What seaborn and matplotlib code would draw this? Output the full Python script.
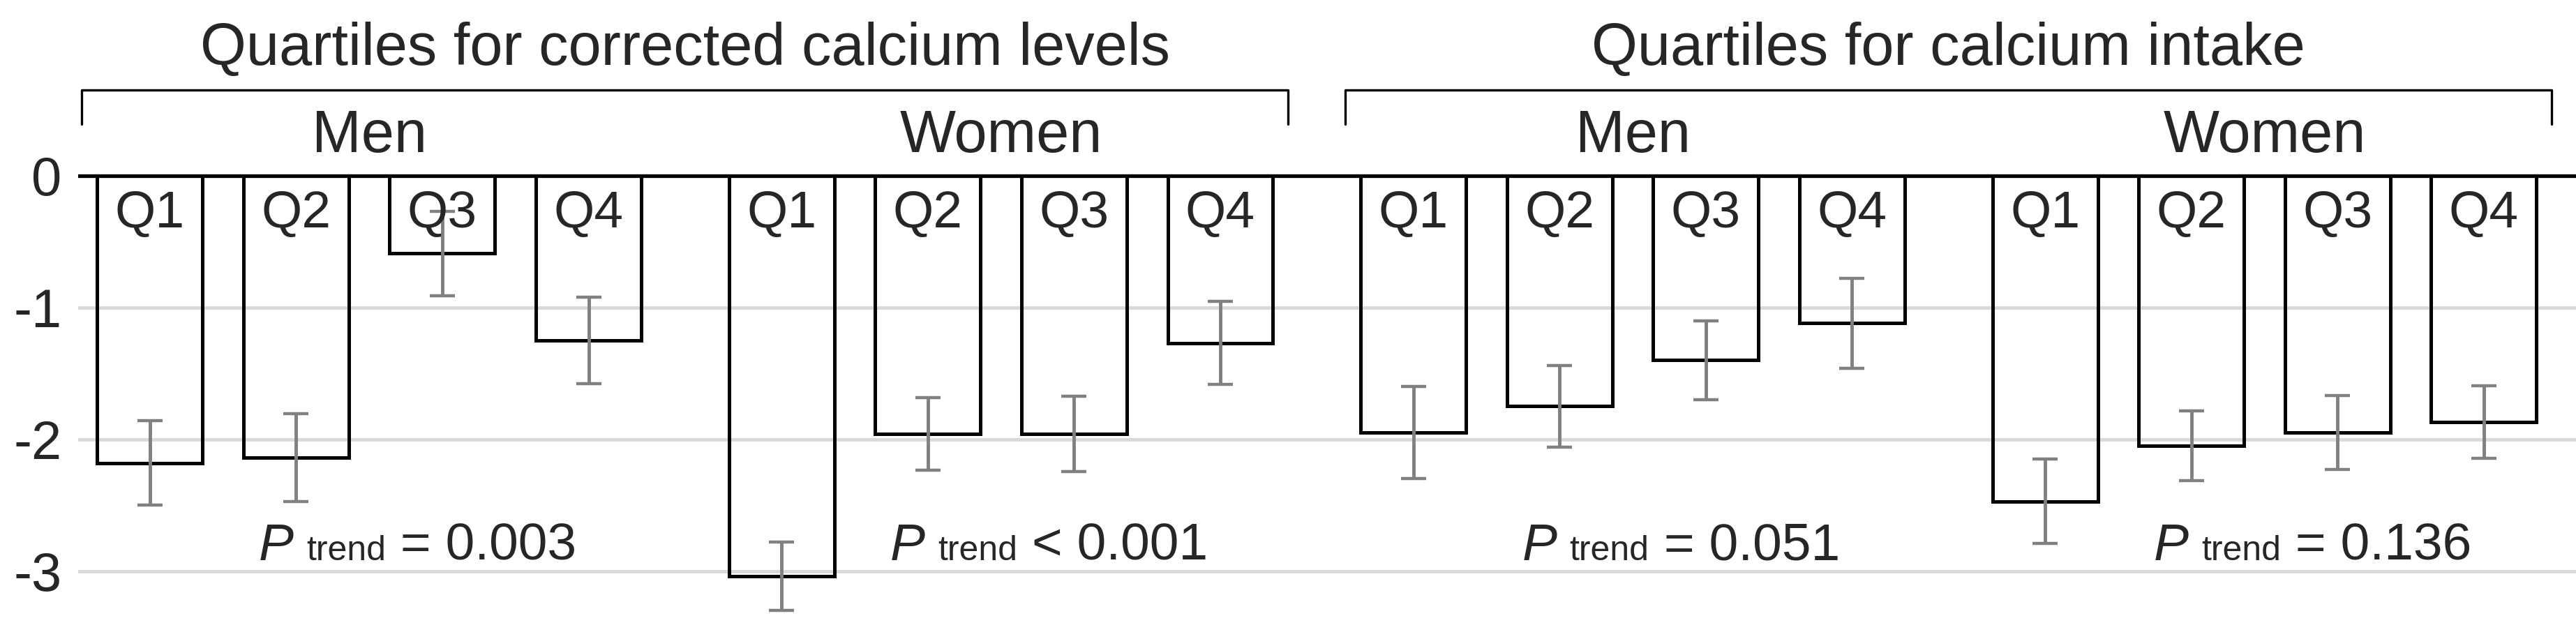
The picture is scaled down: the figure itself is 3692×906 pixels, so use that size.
import numpy as np
import pandas as pd
import seaborn as sns
import matplotlib.pyplot as plt
from matplotlib.offsetbox import TextArea, HPacker, AnnotationBbox

# data
panels = ['Quartiles for corrected calcium levels', 'Quartiles for calcium intake']
sexes = ['Men', 'Women']
quartiles = ['Q1', 'Q2', 'Q3', 'Q4']

corr_men = [-2.18, -2.14, -0.59, -1.25]
corr_men_err = [0.32, 0.335, 0.32, 0.33]
corr_women = [-3.04, -1.96, -1.96, -1.27]
corr_women_err = [0.26, 0.275, 0.285, 0.315]
intake_men = [-1.95, -1.75, -1.40, -1.12]
intake_men_err = [0.35, 0.31, 0.30, 0.34]
intake_women = [-2.47, -2.05, -1.95, -1.87]
intake_women_err = [0.32, 0.265, 0.28, 0.275]

p_trend = ['= 0.003', '< 0.001', '= 0.051', '= 0.136']
yticks = [0, -1, -2, -3]
ytick_labels = ['0', '-1', '-2', '-3']

# build long table, one row per bar
groups = [(0, 'Men', corr_men, corr_men_err),
          (0, 'Women', corr_women, corr_women_err),
          (1, 'Men', intake_men, intake_men_err),
          (1, 'Women', intake_women, intake_women_err)]
group_step = 4.32  # slot where each sex group starts
rows = []
for g, (panel, sex, vals, errs) in enumerate(groups):
    for i, q in enumerate(quartiles):
        rows.append({'panel': panel, 'sex': sex, 'group': g, 'quartile': q,
                     'x': g * group_step + i, 'value': vals[i], 'err': errs[i]})
df = pd.DataFrame(rows)

sns.set_style('white')
plt.rcParams['font.family'] = ['Liberation Sans', 'DejaVu Sans']

W, H, DPI = 3692, 906, 100
fig = plt.figure(figsize=(W / DPI, H / DPI), dpi=DPI)
left = 112 / W
ax = fig.add_axes([left, 0, 1 - left, 1])

sns.barplot(data=df, x='x', y='value', native_scale=True, orient='x',
            fill=False, color='black', linewidth=3.6, width=0.72,
            errorbar=None, ax=ax, zorder=2)

ax.errorbar(df['x'], df['value'], yerr=df['err'], fmt='none',
            ecolor='#808080', elinewidth=3.5, capsize=13, capthick=3.2, zorder=3)

ax.axhline(0, color='black', lw=3.8, zorder=4)

ax.set_ylim(-3.462, 1.332)
ax.set_xlim(-0.49, 16.59)
ax.set_yticks(yticks)
ax.set_yticklabels(ytick_labels)
ax.set_xticks([])
ax.set_xlabel('')
ax.set_ylabel('')
ax.tick_params(axis='y', length=0, pad=17, labelsize=56)
ax.grid(axis='y', color='#d9d9d9', lw=3.5, zorder=0)
ax.set_axisbelow(True)
for s in ax.spines.values():
    s.set_visible(False)

# quartile labels inside bars
for _, r in df.iterrows():
    ax.text(r['x'], -0.393, r['quartile'], ha='center', va='baseline', fontsize=54)

# sex labels and P trend text
for g, (panel, sex, vals, errs) in enumerate(groups):
    xs = df.loc[df['group'] == g, 'x']
    mid = xs.mean()
    ax.text(mid, 0.178, sex, ha='center', va='baseline', fontsize=61)
    pack = HPacker(children=[
        TextArea('P ', textprops=dict(fontsize=54, style='italic')),
        TextArea('trend', textprops=dict(fontsize=36)),
        TextArea(' ' + p_trend[g], textprops=dict(fontsize=54)),
    ], align='baseline', pad=0, sep=0)
    ab = AnnotationBbox(pack, (mid + 0.33, -2.995), xycoords='data',
                        box_alignment=(0.5, 0), frameon=False, pad=0)
    ax.add_artist(ab)

# panel headings with brackets
for p, title in enumerate(panels):
    xs = df.loc[df['panel'] == p, 'x']
    x0, x1 = xs.min() - 0.465, xs.max() + 0.465
    ax.plot([x0, x0, x1, x1], [0.39, 0.65, 0.65, 0.39], color='black',
            lw=2.4, clip_on=False, zorder=4)
    ax.text((x0 + x1) / 2, 0.839, title, ha='center', va='baseline', fontsize=61)

fig.savefig('out.png', dpi=DPI)
